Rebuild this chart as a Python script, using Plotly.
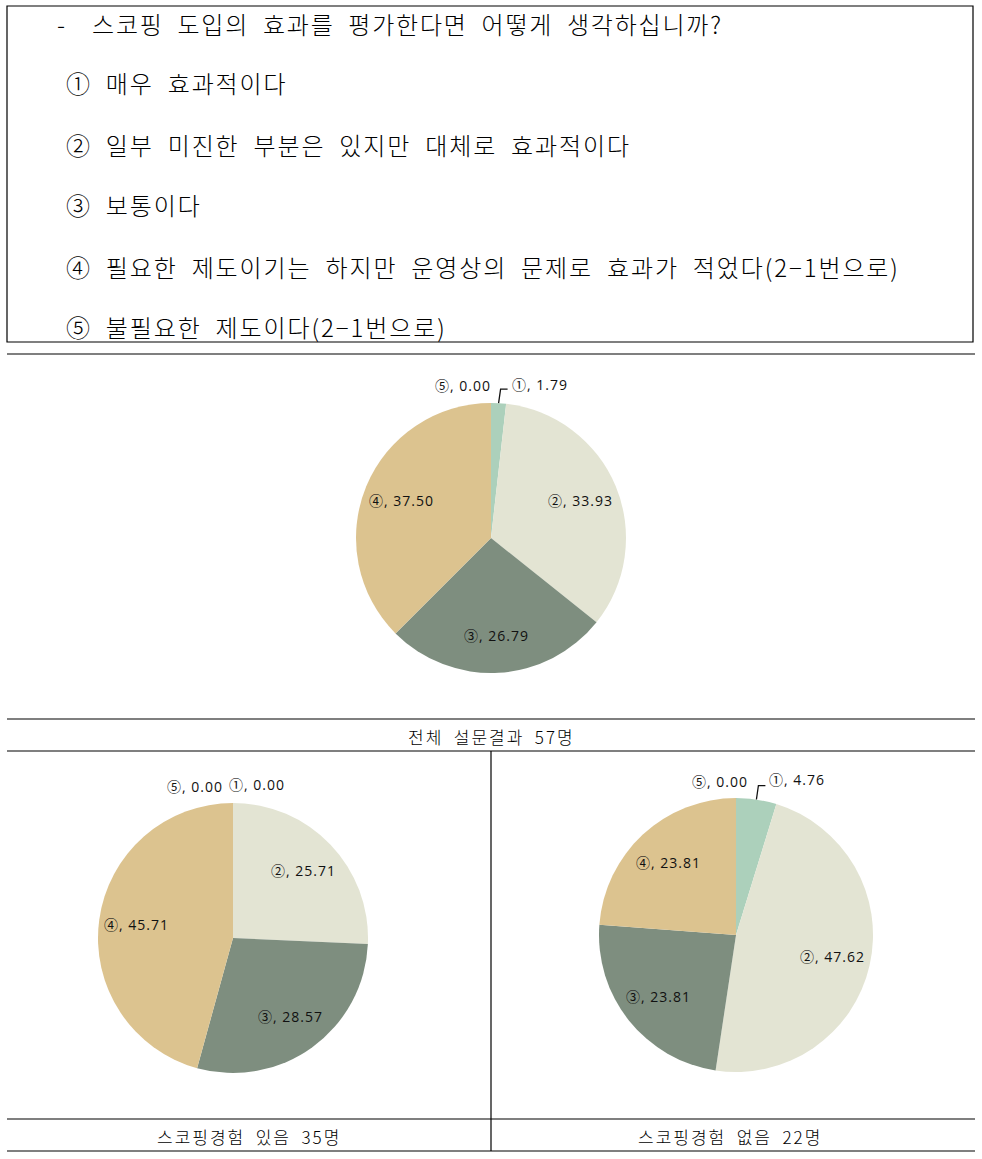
import math
import plotly.graph_objects as go

W, H = 982, 1159

# ---------------- data ----------------
slice_labels = ["①", "②", "③", "④", "⑤"]
total_vals = [1.79, 33.93, 26.79, 37.50, 0.00]
yes_vals = [0.00, 25.71, 28.57, 45.71, 0.00]
no_vals = [4.76, 47.62, 23.81, 23.81, 0.00]
colors = ["#acd0bb", "#e3e4d3", "#7e8e7f", "#dcc38f", "#c8b89a"]

question = "스코핑 도입의 효과를 평가한다면 어떻게 생각하십니까?"
options = [
    "① 매우 효과적이다",
    "② 일부 미진한 부분은 있지만 대체로 효과적이다",
    "③ 보통이다",
    "④ 필요한 제도이기는 하지만 운영상의 문제로 효과가 적었다(2−1번으로)",
    "⑤ 불필요한 제도이다(2−1번으로)",
]
captions = ["전체 설문결과 57명", "스코핑경험 있음 35명", "스코핑경험 없음 22명"]

# ---------------- layout helpers ----------------
FONT = "Noto Sans CJK KR"
LAB_FONT = "Open Sans, Noto Sans CJK KR"
SP = "\u2002"


def px(x):
    return x / W


def py(y):
    return 1 - y / H


def spaced(t, ls, wide_space=True):
    if wide_space:
        t = t.replace(" ", SP)
    return f'<span style="letter-spacing:{ls}px">{t}</span>'


fig = go.Figure()
annotations = []
shapes = []

# pies: (values, cx, cy, r) in pixels
pies = [
    (total_vals, 491, 538, 135),
    (yes_vals, 233, 938, 135),
    (no_vals, 736, 935, 137),
]

lab_font = dict(family=LAB_FONT, size=14, color="#111111")

for vals, cx, cy, r in pies:
    fig.add_trace(go.Pie(
        values=vals,
        labels=slice_labels,
        marker=dict(colors=colors, line=dict(width=0)),
        sort=False,
        direction="clockwise",
        rotation=0,
        textinfo="none",
        hoverinfo="label+value",
        showlegend=False,
        domain=dict(x=[px(cx - r), px(cx + r)], y=[py(cy + r), py(cy - r)]),
    ))
    tot = sum(vals)
    cum = 0.0
    mids = []
    for v in vals:
        mids.append((cum + v / 2) / tot * 2 * math.pi)
        cum += v
    # big slices: inside labels
    for i, v in enumerate(vals):
        if v >= 10:
            a = mids[i]
            rr = 0.72 * r
            x = cx + rr * math.sin(a)
            y = cy - rr * math.cos(a)
            annotations.append(dict(
                x=px(x), y=py(y), xref="paper", yref="paper",
                text=spaced(f"{slice_labels[i]}, {v:.2f}", 1, False), showarrow=False,
                font=lab_font, xanchor="center", yanchor="middle"))
    # small slices (① and ⑤) above the pie
    ly = cy - r - 18
    v1 = vals[0]
    if v1 > 0:
        a = mids[0]
        x0 = cx + r * math.sin(a)
        y0 = cy - r * math.cos(a)
        shapes.append(dict(
            type="path", xref="paper", yref="paper",
            path=f"M {px(x0)} {py(y0)} L {px(x0 + 2)} {py(y0 - 14)} L {px(x0 + 9)} {py(y0 - 14)}",
            line=dict(color="#111111", width=1.3)))
        x1 = x0 + 11
        x5 = x0 - 6
    else:
        x1 = cx - 6
        x5 = cx - 8
    annotations.append(dict(
        x=px(x1), y=py(ly - 1), xref="paper", yref="paper",
        text=spaced(f"{slice_labels[0]}, {vals[0]:.2f}", 1, False), showarrow=False,
        font=lab_font, xanchor="left", yanchor="middle"))
    annotations.append(dict(
        x=px(x5), y=py(ly + 1), xref="paper", yref="paper",
        text=spaced(f"{slice_labels[4]}, {vals[4]:.2f}", 1, False), showarrow=False,
        font=lab_font, xanchor="right", yanchor="middle"))

# ---------------- question box ----------------
shapes.append(dict(type="rect", xref="paper", yref="paper",
                   x0=px(7), x1=px(973), y0=py(342), y1=py(6),
                   line=dict(color="#000000", width=1.2), fillcolor="rgba(0,0,0,0)"))
txt_font = dict(family=FONT, size=24, color="#000000", weight=300)
annotations.append(dict(x=px(55), y=py(23), xref="paper", yref="paper", text="-",
                        showarrow=False, font=txt_font, xanchor="left", yanchor="middle"))
annotations.append(dict(x=px(90), y=py(23), xref="paper", yref="paper",
                        text=spaced(question, 1.8), showarrow=False, font=txt_font,
                        xanchor="left", yanchor="middle"))
opt_y = [83, 144, 205, 266, 326]
for t, yy in zip(options, opt_y):
    annotations.append(dict(x=px(64), y=py(yy), xref="paper", yref="paper",
                            text=spaced(t, 1.9), showarrow=False, font=txt_font,
                            xanchor="left", yanchor="middle"))

# ---------------- table lines ----------------
line_style = dict(color="#000000", width=1.2)
for yy in [354, 719, 751, 1119, 1151]:
    shapes.append(dict(type="line", xref="paper", yref="paper",
                       x0=px(7), x1=px(975), y0=py(yy), y1=py(yy), line=line_style))
shapes.append(dict(type="line", xref="paper", yref="paper",
                   x0=px(491), x1=px(491), y0=py(751), y1=py(1151), line=line_style))

cap_font = dict(family=FONT, size=17, color="#000000", weight=300)
for t, (xx, yy) in zip(captions, [(491, 736), (249, 1136), (730, 1136)]):
    annotations.append(dict(x=px(xx), y=py(yy), xref="paper", yref="paper",
                            text=spaced(t, 2), showarrow=False, font=cap_font,
                            xanchor="center", yanchor="middle"))

fig.update_layout(
    width=W, height=H,
    margin=dict(l=0, r=0, t=0, b=0),
    paper_bgcolor="#ffffff",
    plot_bgcolor="#ffffff",
    annotations=annotations,
    shapes=shapes,
)

fig.write_html("out.html")
